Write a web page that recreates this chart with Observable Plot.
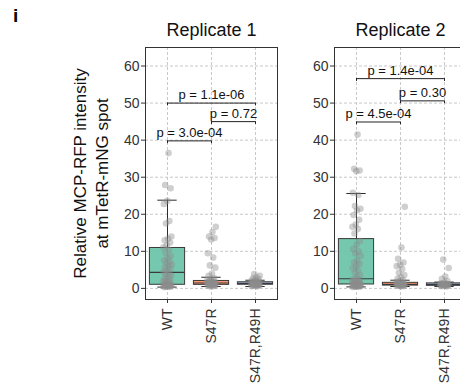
<!DOCTYPE html>
<html><head><meta charset="utf-8">
<script src="https://cdn.jsdelivr.net/npm/d3@7"></script>
<script src="https://cdn.jsdelivr.net/npm/@observablehq/plot@0.6"></script>
<style>
html,body{margin:0;padding:0;background:#fff;overflow:hidden;}
#wrap{position:relative;width:460px;height:386px;overflow:hidden;font-family:"Liberation Sans",Arial,sans-serif;}
#wrap svg{position:absolute;top:0;max-width:none !important;}
#tag{position:absolute;left:13px;top:5px;font-weight:bold;font-size:19px;font-family:"Liberation Sans",Arial,sans-serif;}
</style></head><body>
<div id="wrap"><div id="tag">i</div></div>
<script>
const categories = ["WT", "S47R", "S47R,R49H"];
const replicates = ["Replicate 1", "Replicate 2"];
const boxColors = ["#66C2A5", "#FC8D62", "#8DA0CB"];
const yTicks = [0, 10, 20, 30, 40, 50, 60];
const yAxisTitle = "Relative MCP-RFP intensity\nat mTetR-mNG spot";

// Replicate 1 points
const rep1_WT = [36.5, 27.9, 27.0, 23.6, 22.8, 18.2, 17.5, 14.0, 13.4, 13.0, 12.4, 11.6, 11.1,
  10.4, 9.6, 8.8, 8.2, 7.6, 7.2, 6.8, 6.4, 6.0, 5.6, 5.2, 4.8, 4.5,
  4.1, 3.8, 3.4, 3.0, 2.7, 2.4, 2.1, 1.9, 1.7, 1.5, 1.3, 1.2, 1.05,
  0.95, 0.9, 0.85, 0.8, 0.75, 0.7, 0.65, 0.6, 0.55, 0.5, 0.45, 0.4, 0.35];
const rep1_S47R = [16.6, 15.2, 14.0, 13.6, 13.2, 9.5, 8.3, 6.2, 5.6, 4.0, 3.4, 2.8, 2.5, 2.2, 2.0,
  1.9, 1.8, 1.7, 1.6, 1.5, 1.5, 1.4, 1.3, 1.2, 1.2, 1.1, 1.0, 1.0, 0.9, 0.8, 0.8, 0.7, 0.6, 0.5,
  1.6, 1.3, 1.1, 0.9];
const rep1_S47R_R49H = [3.9, 3.4, 3.0, 2.7, 2.5, 2.3, 2.1, 1.9, 1.8, 1.7, 1.6, 1.5, 1.4, 1.4, 1.3,
  1.3, 1.2, 1.2, 1.1, 1.1, 1.0, 1.0, 0.9, 0.9, 0.8, 0.8, 0.7, 0.6, 0.5, 1.2, 1.0];

// Replicate 2 points
const rep2_WT = [41.5, 32.3, 31.8, 31.6, 25.8, 25.2, 22.2, 21.5, 21.0, 19.8, 18.5, 17.2, 16.6, 16.0, 14.8,
  12.8, 11.8, 10.6, 10.0, 9.4, 8.8, 7.6, 7.0, 6.6, 6.0, 5.4, 4.8, 4.2, 3.6, 3.0,
  2.5, 2.3, 2.1, 2.0, 1.9, 1.8, 1.7, 1.6, 1.5, 1.4, 1.3, 1.2, 1.15, 1.1, 1.05,
  0.95, 0.9, 0.85, 0.8, 0.75, 0.7, 0.7, 0.65, 0.6, 0.6, 0.55, 0.5, 0.5, 0.45, 0.4];
const rep2_S47R = [22.0, 11.0, 8.0, 7.0, 6.4, 6.0, 5.2, 4.2, 3.6, 3.0, 2.6, 2.2, 1.9, 1.7, 1.5, 1.4,
  1.3, 1.2, 1.2, 1.1, 1.1, 1.0, 1.0, 0.9, 0.9, 0.8, 0.8, 0.7, 0.7, 0.6, 0.5, 1.3, 1.0, 0.9];
const rep2_S47R_R49H = [7.8, 5.5, 3.2, 2.6, 2.0, 1.6, 1.4, 1.3, 1.2, 1.1, 1.1, 1.0, 1.0, 0.9, 0.9,
  0.8, 0.8, 0.7, 0.7, 0.6, 0.5, 1.0, 0.9, 1.2];

// Box statistics, per category
const rep1_lo = [0.35, 0.5, 0.5];
const rep1_q1 = [0.97, 0.95, 1.0];
const rep1_med = [4.3, 1.45, 1.3];
const rep1_q3 = [10.9, 2.0, 1.65];
const rep1_hi = [23.8, 3.0, 2.2];

const rep2_lo = [0.4, 0.5, 0.5];
const rep2_q1 = [1.05, 0.75, 0.7];
const rep2_med = [2.6, 1.1, 1.0];
const rep2_q3 = [13.3, 1.5, 1.35];
const rep2_hi = [25.6, 2.2, 1.7];

// Significance brackets
const rep1_bFrom = ["WT", "S47R", "WT"];
const rep1_bTo = ["S47R", "S47R,R49H", "S47R,R49H"];
const rep1_bY = [39.8, 45.0, 50.0];
const rep1_bLabel = ["p = 3.0e-04", "p = 0.72", "p = 1.1e-06"];

const rep2_bFrom = ["WT", "S47R", "WT"];
const rep2_bTo = ["S47R", "S47R,R49H", "S47R,R49H"];
const rep2_bY = [44.9, 50.6, 56.6];
const rep2_bLabel = ["p = 4.5e-04", "p = 0.30", "p = 1.4e-04"];

const FONT = '"Liberation Sans", Arial, sans-serif';

function buildPoints(groups) {
  const out = [];
  groups.forEach((vals, gi) => {
    vals.forEach((v, k) => {
      const jit = (((k + 1) * 0.6180339887 + gi * 0.37) % 1 - 0.5) * 0.2;
      out.push({i: gi, v, jit});
    });
  });
  return out;
}
function buildBoxes(lo, q1, med, q3, hi) {
  return categories.map((c, i) => ({i, lo: lo[i], q1: q1[i], med: med[i], q3: q3[i], hi: hi[i], color: boxColors[i]}));
}
function buildBrackets(from, to, ys, labels) {
  return from.map((f, k) => ({a: categories.indexOf(f), b: categories.indexOf(to[k]), y: ys[k], label: labels[k]}));
}

function makePlot(title, points, boxes, brackets, dims, withYTitle) {
  const tip = 0.75;
  const marks = [
    Plot.gridY({ticks: yTicks, stroke: "#c8c8c8", strokeOpacity: 1, strokeDasharray: "3,2"}),
    Plot.gridX({ticks: [0, 1, 2], stroke: "#c8c8c8", strokeOpacity: 1, strokeDasharray: "3,2"}),
    Plot.ruleX(boxes, {x: "i", y1: "lo", y2: "hi", stroke: "#2b2b2b", strokeWidth: 1}),
    Plot.ruleY(boxes, {y: "hi", x1: d => d.i - 0.22, x2: d => d.i + 0.22, stroke: "#2b2b2b", strokeWidth: 1}),
    Plot.ruleY(boxes, {y: "lo", x1: d => d.i - 0.22, x2: d => d.i + 0.22, stroke: "#2b2b2b", strokeWidth: 1}),
    Plot.rectY(boxes, {x1: d => d.i - 0.4, x2: d => d.i + 0.4, y1: "q1", y2: "q3", fill: "color", fillOpacity: 0.9, stroke: "#3a3a3a", strokeWidth: 1}),
    Plot.ruleY(boxes, {y: "med", x1: d => d.i - 0.4, x2: d => d.i + 0.4, stroke: "#3a3a3a", strokeWidth: 1.2}),
    Plot.dot(points, {x: d => d.i + d.jit, y: "v", r: 3.3, fill: "#8c8c8c", fillOpacity: 0.42, stroke: null}),
    Plot.ruleY(brackets, {y: "y", x1: "a", x2: "b", stroke: "#222", strokeWidth: 1}),
    Plot.ruleX(brackets, {x: "a", y1: d => d.y - tip, y2: "y", stroke: "#222", strokeWidth: 1}),
    Plot.ruleX(brackets, {x: "b", y1: d => d.y - tip, y2: "y", stroke: "#222", strokeWidth: 1}),
    Plot.text(brackets, {x: d => (d.a + d.b) / 2, y: "y", text: "label", lineAnchor: "middle", dy: -8, fontSize: 13, fill: "#111", fontFamily: FONT}),
    Plot.frame({stroke: "#333", strokeWidth: 1}),
    Plot.axisY({ticks: yTicks, tickSize: 4, tickPadding: 2, fontSize: 14, color: "#333", label: null, fontFamily: FONT}),
    Plot.axisX({ticks: [0, 1, 2], tickFormat: i => categories[i], tickRotate: -90, tickSize: 4, tickPadding: 5, fontSize: 14, color: "#333", label: null, fontFamily: FONT}),
    Plot.text([title], {text: d => d, frameAnchor: "top", lineAnchor: "middle", dy: -17, fontSize: 18, fill: "#111", fontFamily: FONT})
  ];
  if (withYTitle) {
    marks.push(Plot.text([yAxisTitle], {text: d => d, frameAnchor: "left", textAnchor: "middle", lineAnchor: "middle", rotate: -90, dx: -56, fontSize: 17, lineHeight: 1.3, fill: "#111", fontFamily: FONT}));
  }
  return Plot.plot({
    width: dims.width, height: 386,
    marginLeft: dims.marginLeft, marginRight: dims.marginRight,
    marginTop: 47, marginBottom: 87,
    x: {domain: [-0.5, 2.5]},
    y: {domain: [-3, 65]},
    color: {type: "identity"},
    style: {fontFamily: FONT, fontSize: "14px", background: "transparent", overflow: "visible", maxWidth: "none"},
    marks
  });
}

const wrap = document.getElementById("wrap");
const p1 = makePlot(replicates[0],
  buildPoints([rep1_WT, rep1_S47R, rep1_S47R_R49H]),
  buildBoxes(rep1_lo, rep1_q1, rep1_med, rep1_q3, rep1_hi),
  buildBrackets(rep1_bFrom, rep1_bTo, rep1_bY, rep1_bLabel),
  {width: 280, marginLeft: 145, marginRight: 3}, true);
p1.style.left = "0px";
wrap.appendChild(p1);

const p2 = makePlot(replicates[1],
  buildPoints([rep2_WT, rep2_S47R, rep2_S47R_R49H]),
  buildBoxes(rep2_lo, rep2_q1, rep2_med, rep2_q3, rep2_hi),
  buildBrackets(rep2_bFrom, rep2_bTo, rep2_bY, rep2_bLabel),
  {width: 180, marginLeft: 44, marginRight: 4}, false);
p2.style.left = "290px";
wrap.appendChild(p2);
</script>
</body></html>
